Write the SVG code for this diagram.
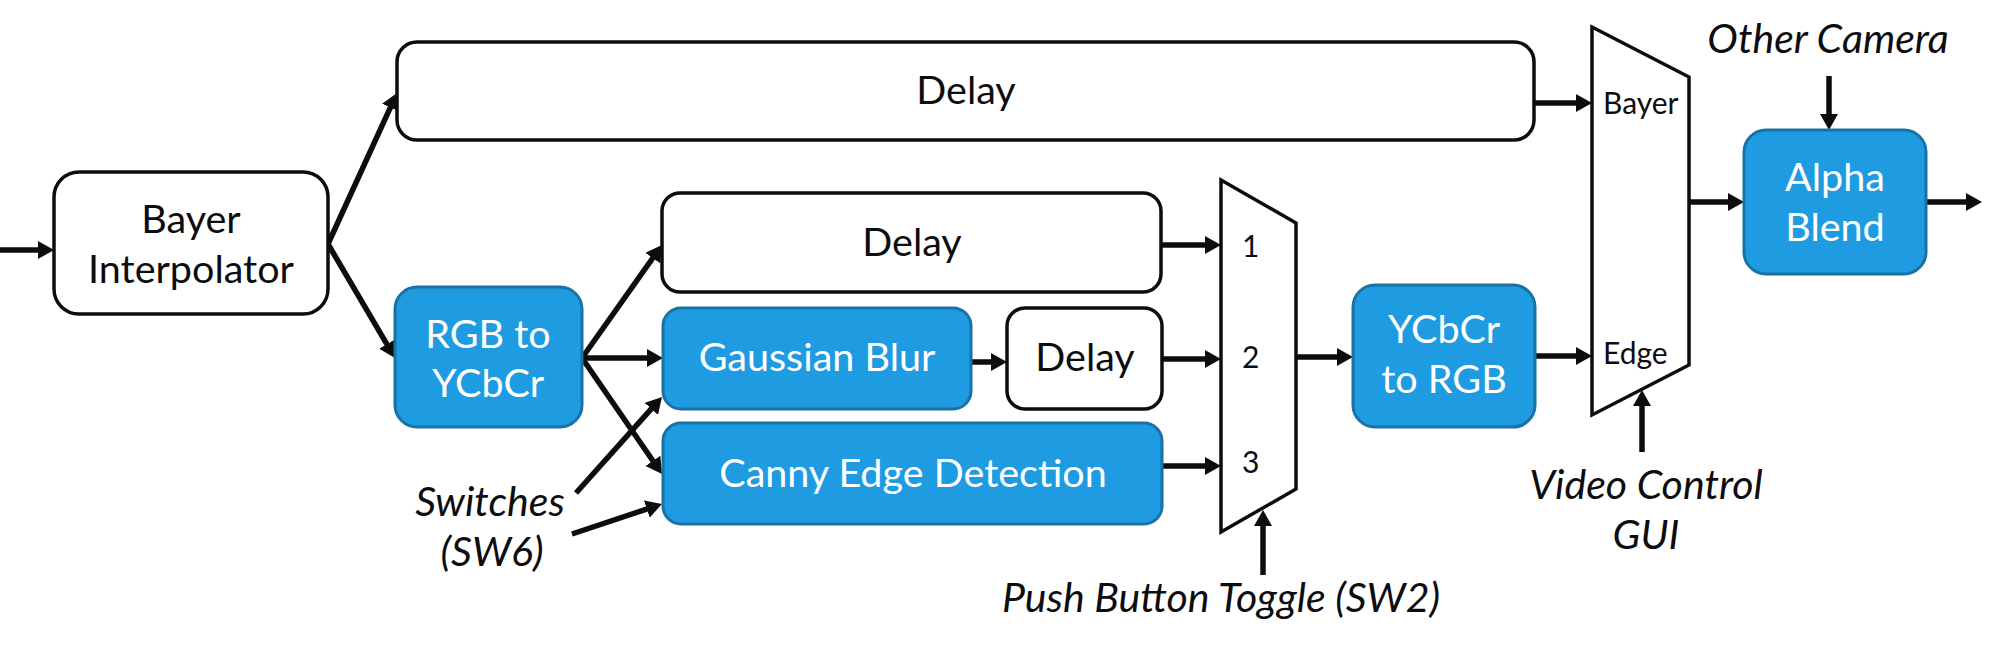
<svg xmlns="http://www.w3.org/2000/svg" width="2000" height="651" viewBox="0 0 2000 651">
<style>
.wbox{fill:#ffffff;stroke:#0d0d10;stroke-width:3.5}
.bbox{fill:#1f9ce1;stroke:#1a71a6;stroke-width:3}
.mux{fill:#ffffff;stroke:#0d0d10;stroke-width:3.5;stroke-linejoin:miter}
.t{font-family:Lato,"Liberation Sans",Arial,sans-serif;font-size:39.5px;text-anchor:middle;fill:#0d0d10}
.tw{fill:#ffffff}
.ti{font-style:italic;font-size:41px}
.ts{font-family:Lato,"Liberation Sans",Arial,sans-serif;font-size:30px;fill:#0d0d10}
.c line{stroke:#0d0d10;stroke-width:5.5;marker-end:url(#ah)}
</style>
<defs>
<marker id="ah" markerUnits="userSpaceOnUse" markerWidth="16" markerHeight="18" viewBox="0 0 16 18" refX="6" refY="9" orient="auto">
<path d="M0,0 L16,9 L0,18 z" fill="#0d0d10"/>
</marker>
</defs>
<rect width="2000" height="651" fill="#ffffff"/>
<g id="connectors" class="c">
<line x1="0" y1="250" x2="44" y2="250"/>
<line x1="328" y1="244" x2="392.8" y2="102.1"/>
<line x1="328" y1="244" x2="389.9" y2="349.4"/>
<line x1="582" y1="358" x2="656.2" y2="253.2"/>
<line x1="582" y1="358" x2="653" y2="358"/>
<line x1="582" y1="358" x2="656.3" y2="465.8"/>
<line x1="576" y1="493" x2="655.3" y2="404.4"/>
<line x1="572" y1="534" x2="652.5" y2="507.2"/>
<line x1="971" y1="362" x2="997" y2="362"/>
<line x1="1161" y1="245" x2="1211" y2="245"/>
<line x1="1162" y1="359" x2="1211" y2="359"/>
<line x1="1162" y1="466" x2="1211" y2="466"/>
<line x1="1296" y1="357" x2="1343" y2="357"/>
<line x1="1535" y1="356" x2="1582" y2="356"/>
<line x1="1534" y1="103" x2="1582" y2="103"/>
<line x1="1689" y1="202" x2="1734" y2="202"/>
<line x1="1926" y1="202" x2="1972" y2="202"/>
<line x1="1829" y1="76" x2="1829" y2="120"/>
<line x1="1263" y1="575" x2="1263" y2="520"/>
<line x1="1642" y1="452" x2="1642" y2="400"/>
</g>
<g id="bayer-interpolator">
<rect class="wbox" x="54" y="172" width="274" height="142" rx="25"/>
<text class="t" x="191" y="233">Bayer</text>
<text class="t" x="191" y="283">Interpolator</text>
</g>
<g id="delay-top">
<rect class="wbox" x="397" y="42" width="1137" height="98" rx="20"/>
<text class="t" x="966" y="104">Delay</text>
</g>
<g id="rgb-to-ycbcr">
<rect class="bbox" x="395" y="287" width="187" height="140" rx="22"/>
<text class="t tw" x="488" y="348">RGB to</text>
<text class="t tw" x="488" y="397">YCbCr</text>
</g>
<g id="delay-mid">
<rect class="wbox" x="662" y="193" width="499" height="99" rx="18"/>
<text class="t" x="912" y="256">Delay</text>
</g>
<g id="gaussian-blur">
<rect class="bbox" x="663" y="308" width="308" height="101" rx="18"/>
<text class="t tw" x="817" y="371">Gaussian Blur</text>
</g>
<g id="delay-small">
<rect class="wbox" x="1007" y="308" width="155" height="101" rx="18"/>
<text class="t" x="1085" y="371">Delay</text>
</g>
<g id="canny-edge-detection">
<rect class="bbox" x="663" y="423" width="499" height="101" rx="18"/>
<text class="t tw" x="913" y="487">Canny Edge Detection</text>
</g>
<g id="mux1">
<polygon class="mux" points="1221,180 1296,223 1296,489 1221,532"/>
<text class="ts" x="1242" y="257">1</text>
<text class="ts" x="1242" y="368">2</text>
<text class="ts" x="1242" y="473">3</text>
</g>
<g id="ycbcr-to-rgb">
<rect class="bbox" x="1353" y="285" width="182" height="142" rx="22"/>
<text class="t tw" x="1444" y="343">YCbCr</text>
<text class="t tw" x="1444" y="393">to RGB</text>
</g>
<g id="mux2">
<polygon class="mux" points="1592,27 1689,77 1689,365 1592,415"/>
<text class="ts" x="1603" y="114">Bayer</text>
<text class="ts" x="1603" y="364">Edge</text>
</g>
<g id="alpha-blend">
<rect class="bbox" x="1744" y="130" width="182" height="144" rx="22"/>
<text class="t tw" x="1835" y="191">Alpha</text>
<text class="t tw" x="1835" y="241">Blend</text>
</g>
<g id="label-other-camera">
<text class="t ti" x="1828" y="53">Other Camera</text>
</g>
<g id="label-switches">
<text class="t ti" x="490" y="516">Switches</text>
<text class="t ti" x="492" y="566">(SW6)</text>
</g>
<g id="label-push-button">
<text class="t ti" x="1221" y="612">Push Button Toggle (SW2)</text>
</g>
<g id="label-video-control">
<text class="t ti" x="1646" y="499">Video Control</text>
<text class="t ti" x="1646" y="549">GUI</text>
</g>
</svg>
